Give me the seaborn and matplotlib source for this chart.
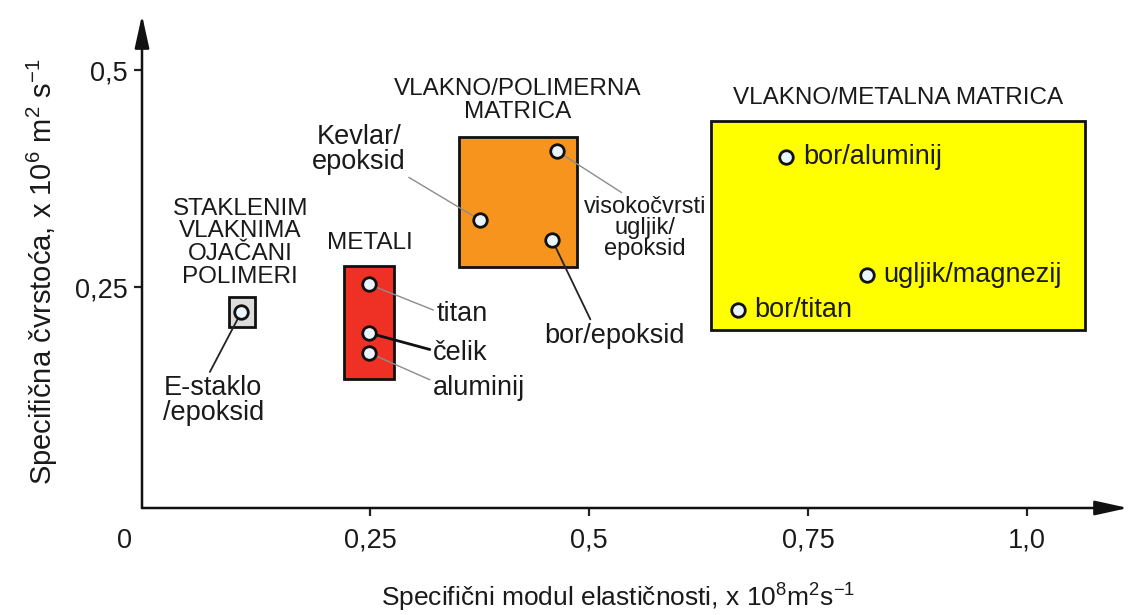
import pandas as pd
import matplotlib.pyplot as plt
import seaborn as sns
from matplotlib.patches import Rectangle

# materijali - specificni modul (x) i specificna cvrstoca (y)
materijali = ["E-staklo/epoksid", "titan", "čelik", "aluminij",
              "Kevlar/epoksid", "visokočvrsti ugljik/epoksid", "bor/epoksid",
              "bor/aluminij", "ugljik/magnezij", "bor/titan"]
modul = [0.103, 0.249, 0.249, 0.249, 0.376, 0.463, 0.458, 0.725, 0.817, 0.670]
cvrstoca = [0.221, 0.253, 0.197, 0.174, 0.327, 0.407, 0.304, 0.400, 0.264, 0.224]

# skupine materijala (pravokutna podrucja)
skupine = ["STAKLENIM\nVLAKNIMA\nOJAČANI\nPOLIMERI", "METALI",
           "VLAKNO/POLIMERNA\nMATRICA", "VLAKNO/METALNA MATRICA"]
skupina_x = [(0.089, 0.119), (0.220, 0.277), (0.352, 0.486), (0.639, 1.066)]
skupina_y = [(0.204, 0.238), (0.144, 0.274), (0.273, 0.423), (0.200, 0.441)]
skupina_boja = ["#dcdcdc", "#ee3124", "#f7941d", "#ffff00"]

xticks = [0.25, 0.5, 0.75, 1.0]
xtick_labels = ["0,25", "0,5", "0,75", "1,0"]
yticks = [0.25, 0.5]
ytick_labels = ["0,25", "0,5"]

df = pd.DataFrame({"materijal": materijali, "modul": modul, "cvrstoca": cvrstoca})

sns.set_style("white")
plt.rcParams["font.family"] = ["Liberation Sans", "DejaVu Sans"]
plt.rcParams["mathtext.fontset"] = "custom"
plt.rcParams["mathtext.rm"] = "Liberation Sans"
plt.rcParams["mathtext.default"] = "regular"

W, H = 1133, 615
fig = plt.figure(figsize=(W / 100, H / 100), dpi=100)
ax = fig.add_axes([142 / W, (H - 508) / H, (1128 - 142) / W, (508 - 15) / H])
ax.set_xlim(-0.0103, 1.1153)
ax.set_ylim(-0.0046, 0.5634)

txt = "#1a1a1a"

# pravokutnici skupina + naslovi
naslov_pos = [(0.102, 0.301), (0.250, 0.301), (0.419, 0.465), (0.853, 0.468)]
for i, naziv in enumerate(skupine):
    x0, x1 = skupina_x[i]
    y0, y1 = skupina_y[i]
    ax.add_patch(Rectangle((x0, y0), x1 - x0, y1 - y0, facecolor=skupina_boja[i],
                           edgecolor="#111111", linewidth=2, zorder=2))
    ax.text(naslov_pos[i][0], naslov_pos[i][1], naziv, ha="center", va="center",
            fontsize=17.5, color=txt, linespacing=1.03)

# tocke
sns.scatterplot(data=df, x="modul", y="cvrstoca", s=95, color="#eaf5fd",
                edgecolor="#111111", linewidth=2.0, zorder=5, legend=False, ax=ax)

# oznake materijala (tekst, polozaj, poravnanje, boja linije, debljina, relpos, velicina)
oznake = [
    ("E-staklo\n/epoksid", (0.071, 0.119), "center", "#222222", 1.3, (0.45, 1.0), 19.5),
    ("titan", (0.326, 0.219), "left", "#8c8c8c", 1.0, (0.0, 0.6), 19.5),
    ("čelik", (0.322, 0.174), "left", "#111111", 2.0, (0.0, 0.6), 19.5),
    ("aluminij", (0.322, 0.134), "left", "#8c8c8c", 1.0, (0.0, 0.75), 19.5),
    ("Kevlar/\nepoksid", (0.237, 0.408), "center", "#8c8c8c", 1.0, (1.0, 0.0), 19.5),
    ("visokočvrsti\nugljik/\nepoksid", (0.564, 0.318), "center", "#8c8c8c", 1.0, (0.35, 1.0), 17),
    ("bor/epoksid", (0.529, 0.194), "center", "#222222", 1.3, (0.34, 1.0), 19.5),
]
for i, (tekst, pos, ha, lc, lw, rp, fs) in enumerate(oznake):
    ax.annotate(tekst, xy=(modul[i], cvrstoca[i]), xytext=pos, ha=ha, va="center",
                fontsize=fs, color=txt, linespacing=0.95,
                arrowprops=dict(arrowstyle="-", color=lc, lw=lw, relpos=rp,
                                shrinkA=0, shrinkB=6), zorder=4)

# oznake unutar zutog pravokutnika, bez linija
for i in range(7, 10):
    ax.text(modul[i] + 0.019, cvrstoca[i], materijali[i], ha="left", va="center",
            fontsize=19.5, color=txt, zorder=6)

# osi sa strelicama
for s in ax.spines.values():
    s.set_visible(False)
arrow = dict(arrowstyle="-|>,head_length=1.0,head_width=0.22", color="#111111",
             lw=1.8, shrinkA=0, shrinkB=0, mutation_scale=20)
ax.annotate("", xy=(0, 1), xytext=(0, 0), xycoords="axes fraction", arrowprops=arrow)
ax.annotate("", xy=(1, 0), xytext=(0, 0), xycoords="axes fraction", arrowprops=arrow)

ax.set_xticks(xticks)
ax.set_xticklabels(xtick_labels)
ax.set_yticks(yticks)
ax.set_yticklabels(ytick_labels)
ax.tick_params(axis="both", direction="out", length=6, width=1.6, color="#222222",
               labelsize=19.5, labelcolor=txt, bottom=True, left=True)
ax.tick_params(axis="x", pad=8)
ax.tick_params(axis="y", pad=4)
ax.text(-0.03, -0.043, "0", ha="center", va="center", fontsize=19.5, color=txt, clip_on=False)

ax.set_xlabel(r"Specifični modul elastičnosti, x 10$^8$m$^2$s$^{-1}$", fontsize=19,
              color=txt, va="center")
ax.xaxis.set_label_coords(0.483, -0.1826)
ax.set_ylabel(r"Specifična čvrstoća, x 10$^6$ m$^2$ s$^{-1}$", fontsize=21,
              color=txt, va="center")
ax.yaxis.set_label_coords(-0.1014, 0.479)

fig.savefig("out.png", dpi=100)
